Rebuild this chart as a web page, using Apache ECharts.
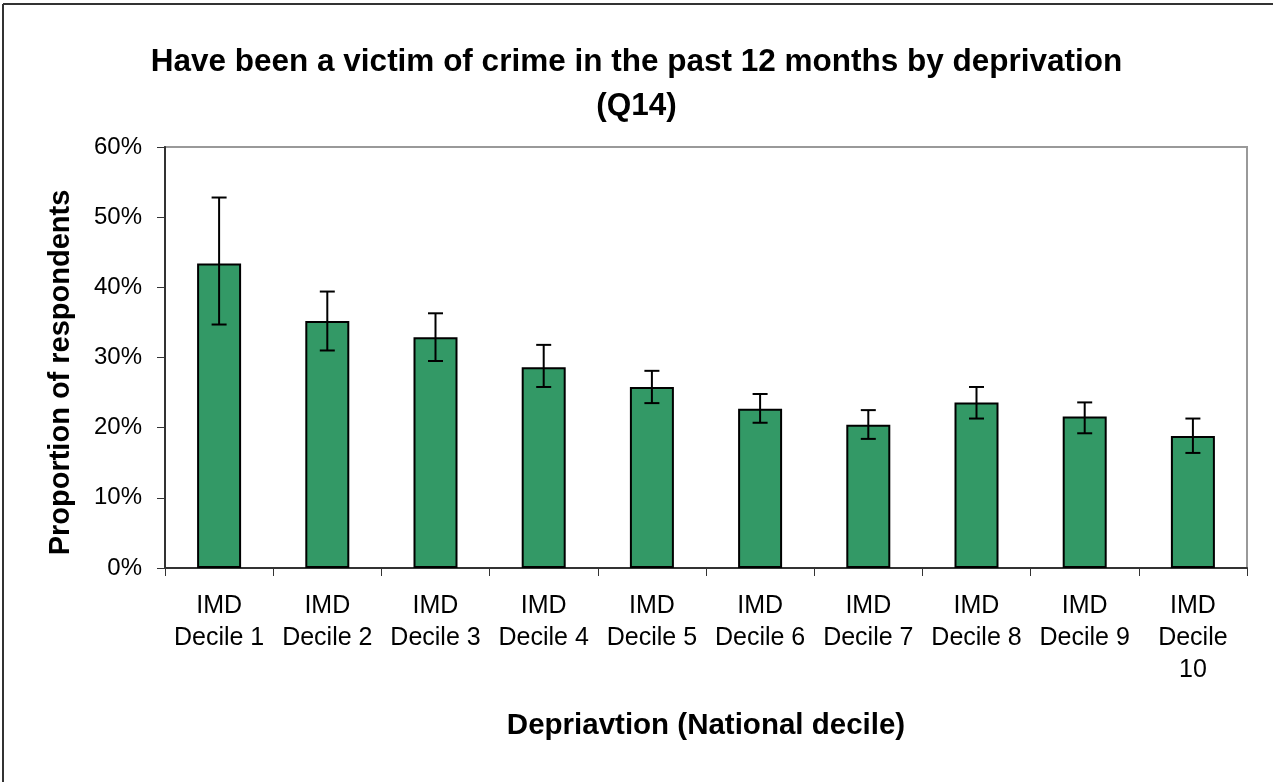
<!DOCTYPE html>
<html>
<head>
<meta charset="utf-8">
<title>Victim of crime by deprivation</title>
<script src="https://cdn.jsdelivr.net/npm/echarts@6/dist/echarts.min.js"></script>
<style>
    html, body { margin: 0; padding: 0; background: #fff; }
    #chart { width: 1273px; height: 782px; }
</style>
</head>
<body>
<div id="chart"></div>
<script>
// data (percent)
const categories = [
    'IMD\nDecile 1', 'IMD\nDecile 2', 'IMD\nDecile 3', 'IMD\nDecile 4', 'IMD\nDecile 5',
    'IMD\nDecile 6', 'IMD\nDecile 7', 'IMD\nDecile 8', 'IMD\nDecile 9', 'IMD\nDecile\n10'
]
const values = [43.4, 35.2, 32.9, 28.6, 25.8, 22.7, 20.4, 23.6, 21.6, 18.8]
const upper = [52.8, 39.4, 36.3, 31.8, 28.1, 24.8, 22.5, 25.8, 23.6, 21.3]
const lower = [34.7, 31.0, 29.5, 25.8, 23.5, 20.7, 18.4, 21.3, 19.2, 16.4]
const yTicks = { min: 0, max: 60, interval: 10 }

const font = "'Liberation Sans', Arial, sans-serif"
const chart = echarts.init(document.getElementById('chart'))

const errorData = categories.map((c, i) => [i, lower[i], upper[i]])

const option = {
    backgroundColor: '#fff',
    animation: false,
    title: {
        text: 'Have been a victim of crime in the past 12 months by deprivation\n(Q14)',
        left: 'center',
        top: 35,
        textStyle: {
            fontFamily: font,
            fontSize: 31.5,
            fontWeight: 'bold',
            lineHeight: 44,
            color: '#000'
        }
    },
    grid: { left: 165, right: 26, top: 147, bottom: 214, containLabel: false, show: true, borderColor: '#999', borderWidth: 2 },
    xAxis: {
        type: 'category',
        data: categories,
        name: 'Depriavtion (National decile)',
        nameLocation: 'middle',
        nameGap: 143,
        nameTextStyle: { fontFamily: font, fontSize: 29.5, fontWeight: 'bold', color: '#000' },
        axisLine: { lineStyle: { color: '#333', width: 2 } },
        axisTick: { show: true, length: 8, lineStyle: { color: '#333', width: 1 } },
        axisLabel: { fontFamily: font, fontSize: 25, lineHeight: 32, color: '#000', margin: 22, interval: 0 }
    },
    yAxis: {
        type: 'value',
        min: yTicks.min,
        max: yTicks.max,
        interval: yTicks.interval,
        name: 'Proportion of respondents',
        nameLocation: 'middle',
        nameRotate: 90,
        nameGap: 90,
        nameTextStyle: { fontFamily: font, fontSize: 29, fontWeight: 'bold', color: '#000', padding: [0, 30, 0, 0] },
        axisLine: { show: true, lineStyle: { color: '#333', width: 2 } },
        axisTick: { show: true, length: 8, lineStyle: { color: '#333', width: 1 } },
        splitLine: { show: false },
        axisLabel: { formatter: '{value}%', fontFamily: font, fontSize: 24, color: '#000', margin: 23 }
    },
    series: [
        {
            type: 'bar',
            data: values,
            barWidth: 44,
            itemStyle: { color: '#339966', borderColor: '#000', borderWidth: 2 }
        },
        {
            type: 'custom',
            data: errorData,
            z: 10,
            renderItem: (params, api) => {
                const i = api.value(0)
                const lo = api.coord([i, api.value(1)])
                const hi = api.coord([i, api.value(2)])
                const half = 7.5
                const style = { stroke: '#000', lineWidth: 2 }
                return {
                    type: 'group',
                    children: [
                        { type: 'line', shape: { x1: hi[0], y1: hi[1], x2: lo[0], y2: lo[1] }, style },
                        { type: 'line', shape: { x1: hi[0] - half, y1: hi[1], x2: hi[0] + half, y2: hi[1] }, style },
                        { type: 'line', shape: { x1: lo[0] - half, y1: lo[1], x2: lo[0] + half, y2: lo[1] }, style }
                    ]
                }
            }
        }
    ],
    graphic: [
        { type: 'line', shape: { x1: 3, y1: 4, x2: 1273, y2: 4 }, style: { stroke: '#333', lineWidth: 2 } },
        { type: 'line', shape: { x1: 3, y1: 4, x2: 3, y2: 782 }, style: { stroke: '#333', lineWidth: 2 } }
    ]
}

chart.setOption(option)
</script>
</body>
</html>
